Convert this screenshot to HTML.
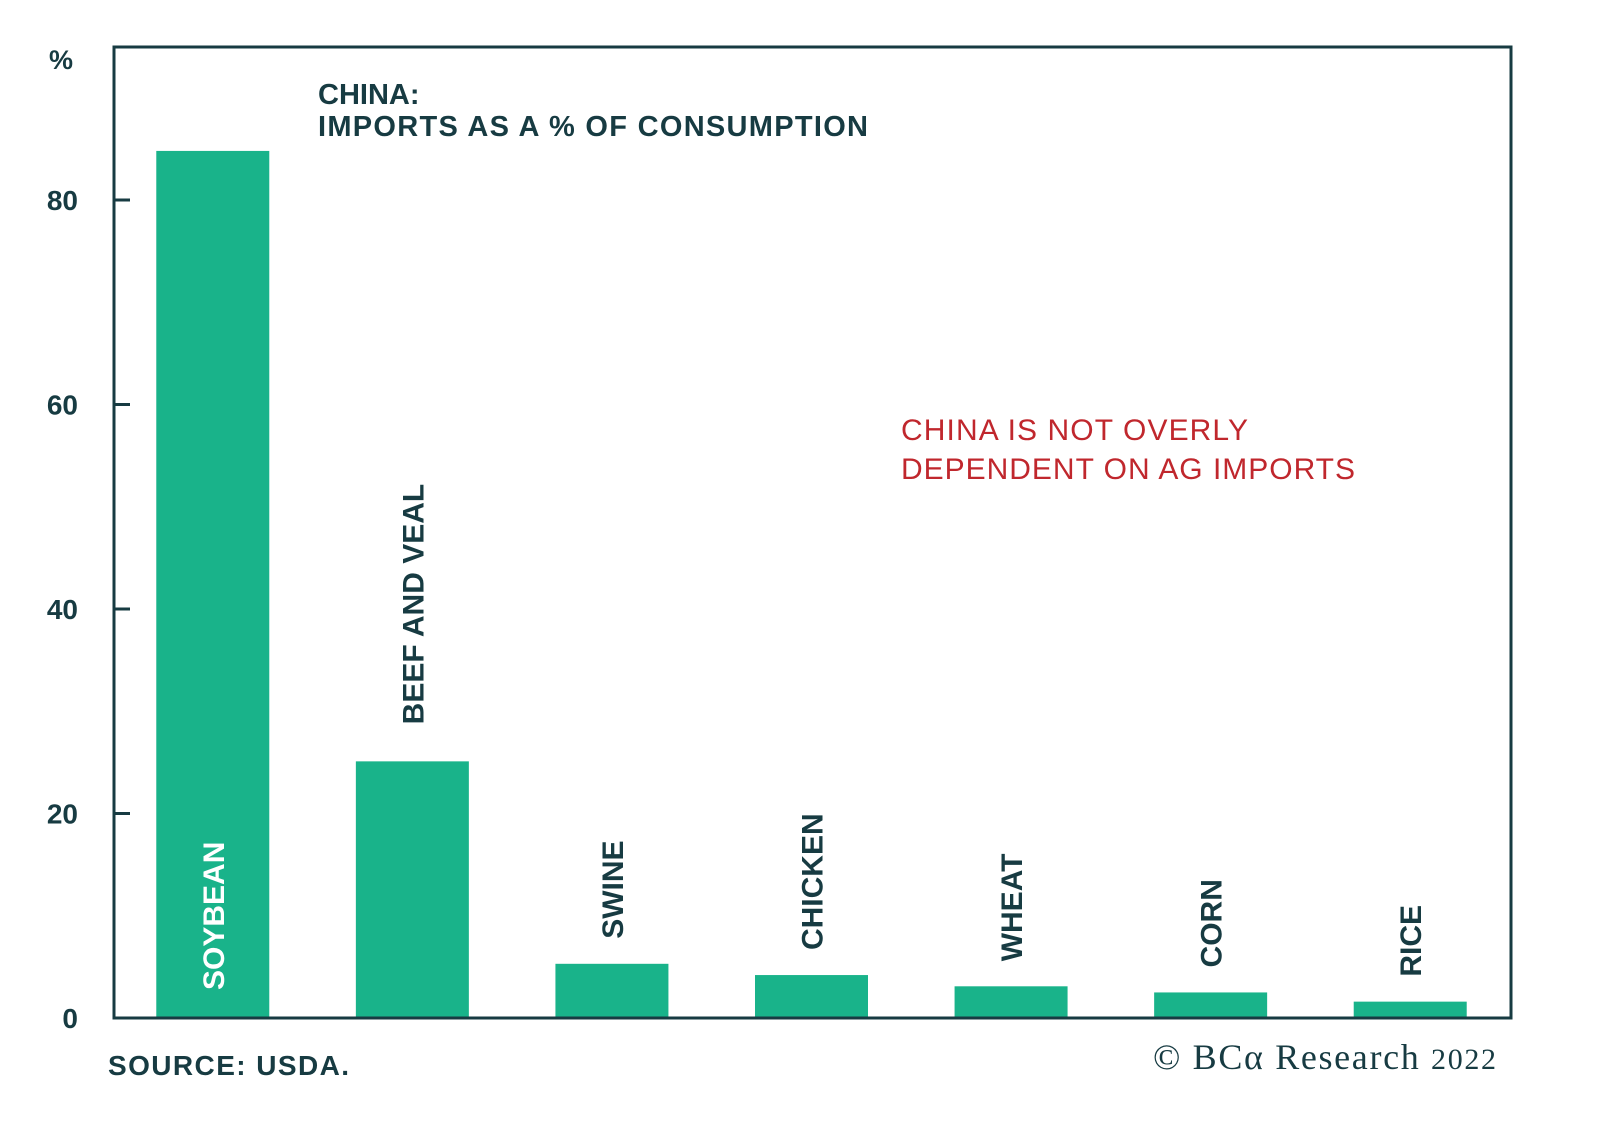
<!DOCTYPE html>
<html><head><meta charset="utf-8"><style>
html,body{margin:0;padding:0;background:#fff;}
svg text{font-family:"Liberation Sans",sans-serif;}
</style></head><body>
<svg id="chart" width="1600" height="1130" viewBox="0 0 1600 1130" xmlns="http://www.w3.org/2000/svg">
<rect width="1600" height="1130" fill="#fff"/>
<g id="bars"></g>
<g id="yaxis"></g>
<rect x="114" y="47" width="1397" height="971" fill="none" stroke="#173b42" stroke-width="3"/>
<text x="49" y="69" font-size="27" font-weight="bold" fill="#173b42">%</text>
<text x="318" y="104" font-size="29" font-weight="bold" fill="#173b42">CHINA:</text>
<text x="318" y="136" font-size="29" font-weight="bold" fill="#173b42" textLength="550">IMPORTS AS A % OF CONSUMPTION</text>
<text x="901" y="440" font-size="30" fill="#c0272d" textLength="347">CHINA IS NOT OVERLY</text>
<text x="901" y="479" font-size="30" fill="#c0272d" textLength="454">DEPENDENT ON AG IMPORTS</text>
<text x="108" y="1075" font-size="28" font-weight="bold" fill="#173b42" textLength="241">SOURCE: USDA.</text>
<text x="1496" y="1069" font-size="36" text-anchor="end" fill="#173b42" textLength="343" style="font-family:'Liberation Serif',serif">© BCα Research <tspan font-size="30">2022</tspan></text>
</svg>
<script>
const categories = ["SOYBEAN","BEEF AND VEAL","SWINE","CHICKEN","WHEAT","CORN","RICE"];
const values = [84.8, 25.1, 5.3, 4.2, 3.1, 2.5, 1.6];
const yTicks = [0, 20, 40, 60, 80];
const yTickLabels = ["0","20","40","60","80"];

const NS = "http://www.w3.org/2000/svg";
const x0 = 114, x1 = 1511, yBase = 1018, yPerUnit = 10.225;
const slot = (x1 - x0) / categories.length, barW = 113;
function yScale(v){ return yBase - v * yPerUnit; }
function xCenter(i){ return x0 + slot * (i + 0.5) - 1; }

const bars = document.getElementById('bars');
categories.forEach((c, i) => {
  const cx = xCenter(i), top = yScale(values[i]);
  const r = document.createElementNS(NS, 'rect');
  r.setAttribute('x', cx - barW / 2);
  r.setAttribute('y', top);
  r.setAttribute('width', barW);
  r.setAttribute('height', yBase - top);
  r.setAttribute('fill', '#19b38a');
  
  
  bars.appendChild(r);
  const t = document.createElementNS(NS, 'text');
  const inside = i === 0;
  const ly = inside ? 990 : top - (i === 1 ? 37 : 25);
  t.setAttribute('x', 0);
  t.setAttribute('y', 0);
  t.setAttribute('transform', 'translate(' + (cx + 11) + ',' + ly + ') rotate(-90)');
  t.setAttribute('font-size', '30');
  t.setAttribute('font-weight', 'bold');
  t.setAttribute('fill', inside ? '#ffffff' : '#173b42');
  t.textContent = c;
  
  
  bars.appendChild(t);
});

const yaxis = document.getElementById('yaxis');
yTicks.forEach((v, i) => {
  const y = yScale(v);
  if (v !== 0) {
    const l = document.createElementNS(NS, 'line');
    l.setAttribute('x1', 114); l.setAttribute('x2', 130);
    l.setAttribute('y1', y); l.setAttribute('y2', y);
    l.setAttribute('stroke', '#173b42'); l.setAttribute('stroke-width', '3');
    
    
    yaxis.appendChild(l);
  }
  const t = document.createElementNS(NS, 'text');
  t.setAttribute('x', 78);
  t.setAttribute('y', y + 10);
  t.setAttribute('text-anchor', 'end');
  t.setAttribute('font-size', '28');
  t.setAttribute('font-weight', 'bold');
  t.setAttribute('fill', '#173b42');
  t.textContent = yTickLabels[i];
  
  
  yaxis.appendChild(t);
});
</script>
</body></html>
